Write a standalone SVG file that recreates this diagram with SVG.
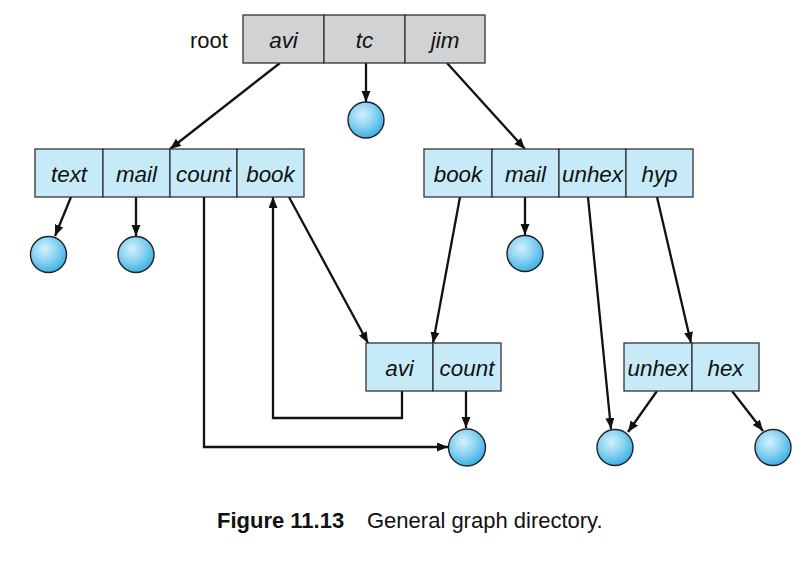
<svg xmlns="http://www.w3.org/2000/svg" width="812" height="570" viewBox="0 0 812 570">
<defs>
<radialGradient id="ball" cx="0.4" cy="0.35" r="0.65">
<stop offset="0" stop-color="#d3f1fc"/>
<stop offset="0.55" stop-color="#86d2f2"/>
<stop offset="1" stop-color="#3fb0e4"/>
</radialGradient>
<marker id="ah" markerUnits="userSpaceOnUse" markerWidth="12" markerHeight="10" refX="11" refY="4.5" orient="auto">
<path d="M0,0 L11,4.5 L0,9 z" fill="#111"/>
</marker>
<style>
.gray{fill:#d1d2d4;stroke:#333;stroke-width:1.3}
.blue{fill:#c7eaf8;stroke:#333;stroke-width:1.3}
.ball{fill:url(#ball);stroke:#222;stroke-width:1.4}
.lbl{font-family:"Liberation Sans",Arial,sans-serif;font-style:italic;font-size:22.4px;fill:#111;text-anchor:middle}
.plain{font-family:"Liberation Sans",Arial,sans-serif;font-size:22px;fill:#111}
.c{fill:none;stroke:#111;stroke-width:2.3}
.cap{font-family:"Liberation Sans",Arial,sans-serif;font-size:22px;fill:#111}
</style>
</defs>
<rect width="812" height="570" fill="#fff"/>

<g id="connectors">
<line class="c" x1="280" y1="63" x2="170" y2="149" marker-end="url(#ah)"/>
<line class="c" x1="366" y1="63" x2="366" y2="102" marker-end="url(#ah)"/>
<line class="c" x1="447" y1="63" x2="525" y2="149" marker-end="url(#ah)"/>
<line class="c" x1="71" y1="197" x2="55" y2="236" marker-end="url(#ah)"/>
<line class="c" x1="136" y1="197" x2="136" y2="236" marker-end="url(#ah)"/>
<polyline class="c" points="204,197 204,447 448,447" marker-end="url(#ah)"/>
<polyline class="c" points="402,391 402,418 273,418 273,197" marker-end="url(#ah)"/>
<line class="c" x1="289" y1="197" x2="368" y2="343" marker-end="url(#ah)"/>
<line class="c" x1="460" y1="197" x2="433" y2="343" marker-end="url(#ah)"/>
<line class="c" x1="525" y1="197" x2="525" y2="235" marker-end="url(#ah)"/>
<line class="c" x1="588" y1="197" x2="611" y2="429" marker-end="url(#ah)"/>
<line class="c" x1="657" y1="197" x2="691" y2="343" marker-end="url(#ah)"/>
<line class="c" x1="466" y1="391" x2="466" y2="428" marker-end="url(#ah)"/>
<line class="c" x1="657" y1="391" x2="628" y2="432" marker-end="url(#ah)"/>
<line class="c" x1="732" y1="391" x2="763" y2="431" marker-end="url(#ah)"/>
</g>

<g id="root">
<text class="plain" x="190" y="47.5">root</text>
<rect class="gray" x="243" y="15" width="81" height="48"/>
<rect class="gray" x="324" y="15" width="81" height="48"/>
<rect class="gray" x="405" y="15" width="80" height="48"/>
<text class="lbl" x="283.5" y="47.5">avi</text>
<text class="lbl" x="364.5" y="47.5">tc</text>
<text class="lbl" x="445" y="47.5">jim</text>
</g>

<g id="avi-dir">
<rect class="blue" x="35" y="149" width="68" height="48"/>
<rect class="blue" x="103" y="149" width="67" height="48"/>
<rect class="blue" x="170" y="149" width="67" height="48"/>
<rect class="blue" x="237" y="149" width="67" height="48"/>
<text class="lbl" x="69" y="181.5">text</text>
<text class="lbl" x="136.5" y="181.5">mail</text>
<text class="lbl" x="203.5" y="181.5">count</text>
<text class="lbl" x="270.5" y="181.5">book</text>
</g>

<g id="jim-dir">
<rect class="blue" x="424" y="149" width="68" height="48"/>
<rect class="blue" x="492" y="149" width="67" height="48"/>
<rect class="blue" x="559" y="149" width="67" height="48"/>
<rect class="blue" x="626" y="149" width="67" height="48"/>
<text class="lbl" x="458" y="181.5">book</text>
<text class="lbl" x="525.5" y="181.5">mail</text>
<text class="lbl" x="592.5" y="181.5">unhex</text>
<text class="lbl" x="659.5" y="181.5">hyp</text>
</g>

<g id="book-dir">
<rect class="blue" x="366" y="343" width="67" height="48"/>
<rect class="blue" x="433" y="343" width="68" height="48"/>
<text class="lbl" x="399.5" y="375.5">avi</text>
<text class="lbl" x="467" y="375.5">count</text>
</g>

<g id="hyp-dir">
<rect class="blue" x="624" y="343" width="68" height="48"/>
<rect class="blue" x="692" y="343" width="67" height="48"/>
<text class="lbl" x="658" y="375.5">unhex</text>
<text class="lbl" x="725.5" y="375.5">hex</text>
</g>

<g id="file-tc"><circle class="ball" cx="366" cy="120" r="18"/></g>
<g id="file-text"><circle class="ball" cx="48.5" cy="254.5" r="18"/></g>
<g id="file-mail-avi"><circle class="ball" cx="136" cy="254.5" r="18"/></g>
<g id="file-mail-jim"><circle class="ball" cx="525" cy="253.5" r="18"/></g>
<g id="file-count"><circle class="ball" cx="467" cy="447.5" r="18.5"/></g>
<g id="file-unhex"><circle class="ball" cx="615" cy="447.5" r="18"/></g>
<g id="file-hex"><circle class="ball" cx="773" cy="447.5" r="18"/></g>

<g id="caption">
<text class="cap" x="217" y="528"><tspan font-weight="bold">Figure 11.13</tspan><tspan x="367">General graph directory.</tspan></text>
</g>
</svg>
